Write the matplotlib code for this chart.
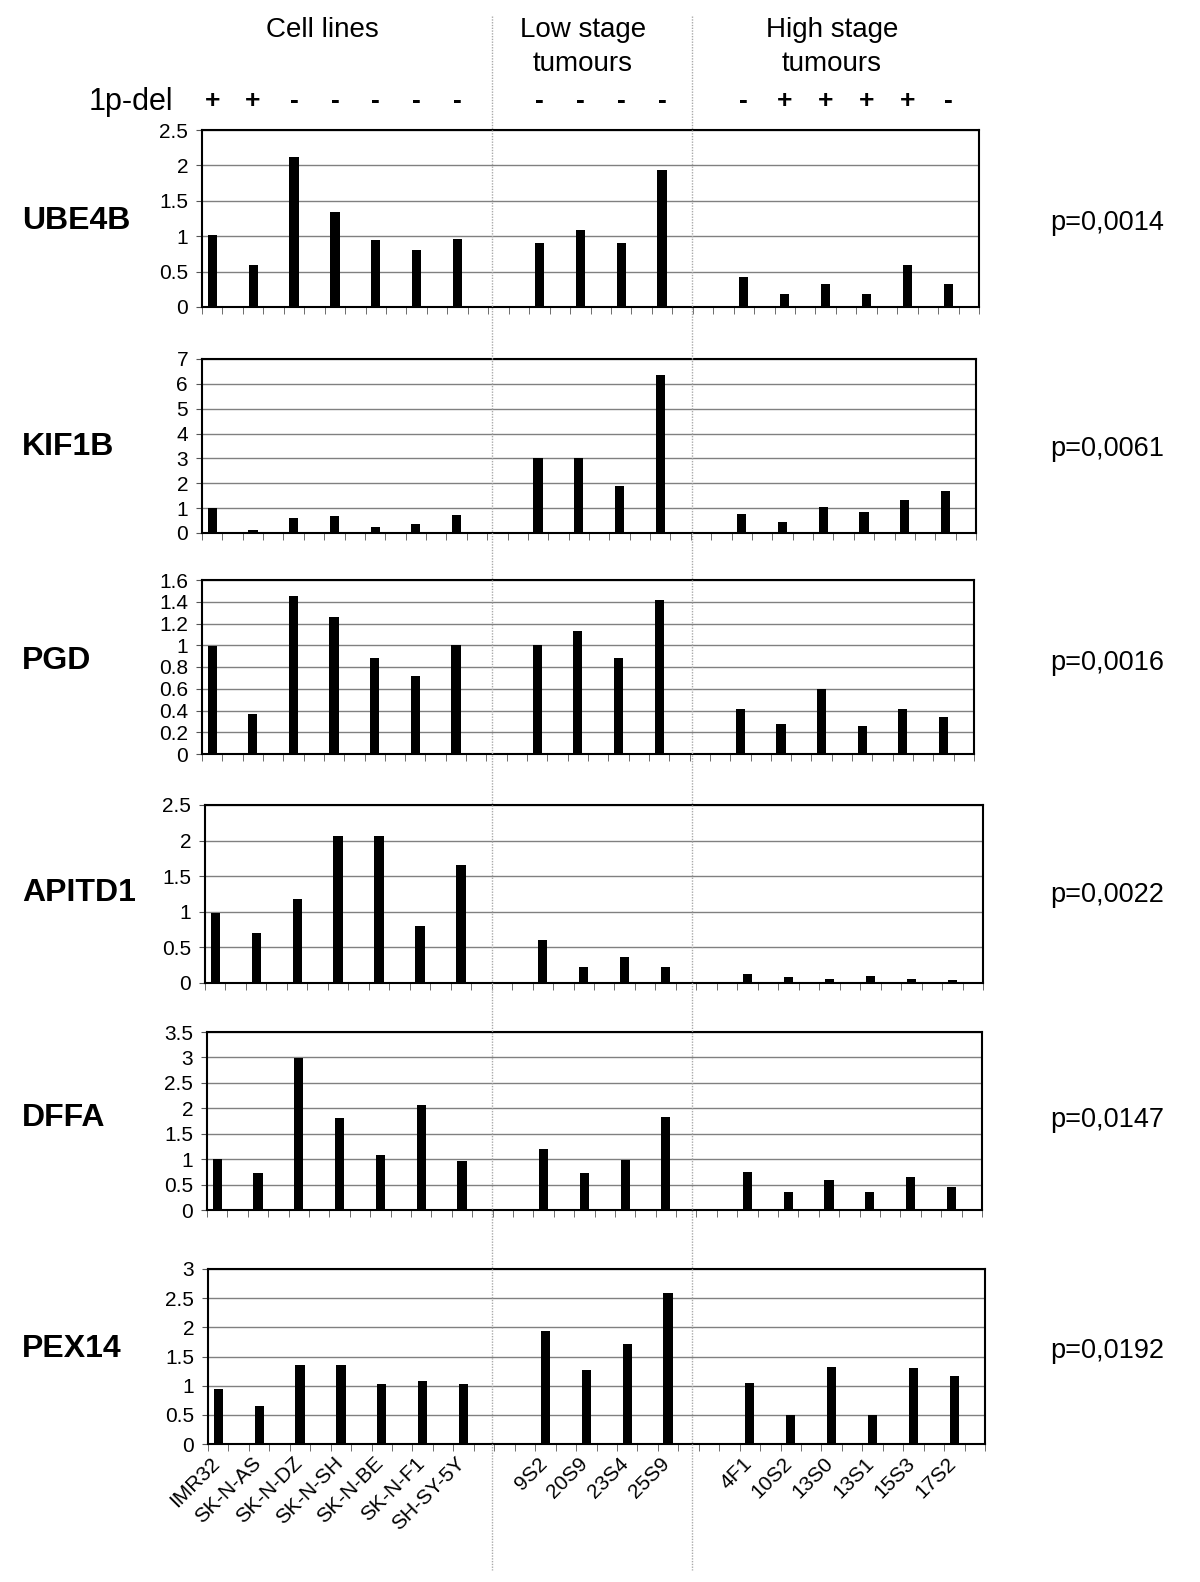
import matplotlib
matplotlib.use('Agg')
import matplotlib.pyplot as plt
from matplotlib.transforms import blended_transform_factory, ScaledTranslation
from matplotlib.lines import Line2D
import numpy as np

plt.rcParams['font.family'] = ['Liberation Sans', 'DejaVu Sans']

# sample names per group
cell_lines = ['IMR32', 'SK-N-AS', 'SK-N-DZ', 'SK-N-SH', 'SK-N-BE', 'SK-N-F1', 'SH-SY-5Y']
low_stage = ['9S2', '20S9', '23S4', '25S9']
high_stage = ['4F1', '10S2', '13S0', '13S1', '15S3', '17S2']

# 1p deletion status
del_cell = ['+', '+', '-', '-', '-', '-', '-']
del_low = ['-', '-', '-', '-']
del_high = ['-', '+', '+', '+', '+', '-']

genes = ['UBE4B', 'KIF1B', 'PGD', 'APITD1', 'DFFA', 'PEX14']
p_values = ['p=0,0014', 'p=0,0061', 'p=0,0016', 'p=0,0022', 'p=0,0147', 'p=0,0192']

# relative expression (cell lines + low stage + high stage)
ube4b = [1.02, 0.60, 2.12, 1.34, 0.95, 0.81, 0.96,
         0.90, 1.09, 0.90, 1.94,
         0.43, 0.18, 0.33, 0.18, 0.60, 0.33]
kif1b = [0.99, 0.13, 0.60, 0.67, 0.24, 0.35, 0.73,
         3.03, 3.03, 1.91, 6.37,
         0.76, 0.44, 1.04, 0.83, 1.31, 1.68]
pgd = [0.99, 0.37, 1.45, 1.26, 0.88, 0.72, 1.00,
       1.00, 1.13, 0.88, 1.42,
       0.41, 0.28, 0.60, 0.26, 0.41, 0.34]
apitd1 = [0.99, 0.70, 1.18, 2.07, 2.07, 0.80, 1.66,
          0.60, 0.23, 0.37, 0.23,
          0.12, 0.08, 0.06, 0.10, 0.06, 0.04]
dffa = [1.01, 0.72, 2.98, 1.80, 1.09, 2.06, 0.96,
        1.19, 0.72, 0.99, 1.83,
        0.75, 0.35, 0.59, 0.35, 0.64, 0.45]
pex14 = [0.94, 0.66, 1.36, 1.36, 1.03, 1.08, 1.03,
         1.94, 1.27, 1.71, 2.59,
         1.05, 0.50, 1.32, 0.50, 1.31, 1.17]
series = [ube4b, kif1b, pgd, apitd1, dffa, pex14]

y_max = [2.5, 7, 1.6, 2.5, 3.5, 3]
y_step = [0.5, 1, 0.2, 0.5, 0.5, 0.5]

W, H = 1200, 1582
# panel boxes in pixels: left, right, top, bottom
boxes = [(202, 979, 130, 307),
         (202, 976, 359, 533),
         (202, 974, 580, 754),
         (205, 983, 805, 983),
         (207, 982, 1032, 1210),
         (208, 985, 1269, 1444)]
gene_y = [221, 447, 661, 893, 1118, 1349]

# bar positions: each sample takes two categories, one empty slot between groups
groups = [cell_lines, low_stage, high_stage]
pos = []
slot = 0
for g in groups:
    for name in g:
        pos.append(2 * slot)
        slot += 1
    slot += 1
n_cat = 2 * (slot - 1)
pos = np.array(pos)
names = cell_lines + low_stage + high_stage
dels = del_cell + del_low + del_high

fig = plt.figure(figsize=(W / 100, H / 100), dpi=100)

axes = []
for i, (l, r, t, b) in enumerate(boxes):
    ax = fig.add_axes([l / W, 1 - b / H, (r - l) / W, (b - t) / H])
    ax.bar(pos, series[i], width=0.45, color='black', zorder=3)
    ax.set_xlim(-0.5, n_cat - 0.5)
    ax.set_ylim(0, y_max[i])
    yt = np.round(np.arange(0, y_max[i] + y_step[i] / 2, y_step[i]), 2)
    ax.set_yticks(yt)
    ax.set_yticklabels(['%g' % v for v in yt])
    ax.yaxis.grid(True, color='#808080', lw=1)
    ax.set_axisbelow(True)
    ax.tick_params(axis='y', direction='out', length=4, labelsize=15, pad=6,
                   color='#555555')
    ax.set_xticks(np.arange(-0.5, n_cat, 1), minor=True)
    ax.tick_params(axis='x', which='minor', direction='out', length=5, color='#555555')
    ax.set_xticks(pos)
    ax.tick_params(axis='x', which='major', length=0, labelsize=15, pad=7)
    if i == len(boxes) - 1:
        labels = ax.set_xticklabels(names, rotation=45, ha='right', va='top',
                                    rotation_mode='anchor')
        shift = ScaledTranslation(-8 / 100, 0, fig.dpi_scale_trans)
        for lab in labels:
            lab.set_transform(lab.get_transform() + shift)
    else:
        ax.set_xticklabels([])
    for s in ax.spines.values():
        s.set_linewidth(1.5)
        s.set_color('black')
    fig.text(22 / W, 1 - gene_y[i] / H, genes[i], fontsize=23, fontweight='bold',
             ha='left', va='center')
    fig.text(1050 / W, 1 - (gene_y[i] + 2) / H, p_values[i], fontsize=19.5,
             ha='left', va='center')
    axes.append(ax)

# 1p-del signs above the top panel
trans = blended_transform_factory(axes[0].transData, fig.transFigure)
for x, d in zip(pos, dels):
    axes[0].text(x, 1 - 101 / H, d, transform=trans, ha='center', va='center',
                 fontsize=19, fontweight='bold')
fig.text(131 / W, 1 - 102 / H, '1p-del', fontsize=22, ha='center', va='center')

# group headers
fig.text(322 / W, 1 - 30 / H, 'Cell lines', fontsize=20, ha='center', va='center')
fig.text(583 / W, 1 - 47 / H, 'Low stage\ntumours', fontsize=20, ha='center',
         va='center', linespacing=1.38)
fig.text(832 / W, 1 - 47 / H, 'High stage\ntumours', fontsize=20, ha='center',
         va='center', linespacing=1.38)

# dotted group separators across the whole figure
for xs in [491.5, 691.5]:
    fig.add_artist(Line2D([xs / W, xs / W], [1 - 16 / H, 1 - 1570 / H],
                          transform=fig.transFigure, color='#aaaaaa',
                          ls=(0, (1, 1)), lw=1, zorder=5))

fig.savefig('out.png', dpi=100, facecolor='white')
